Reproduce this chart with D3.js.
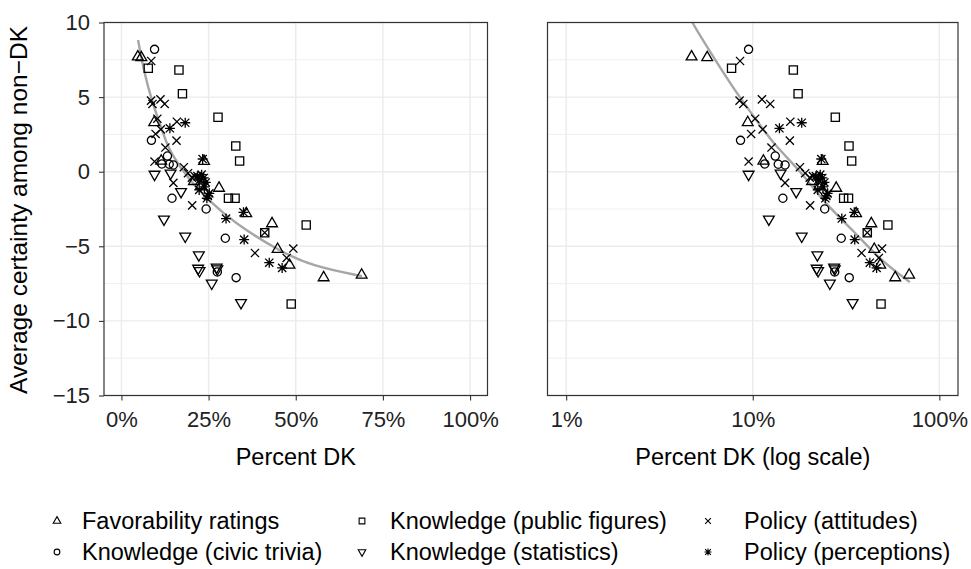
<!DOCTYPE html>
<html>
<head>
<meta charset="utf-8">
<script src="https://cdn.jsdelivr.net/npm/d3@7"></script>
<style>
  body { margin: 0; background: #ffffff; }
  svg { display: block; }
  text { font-family: "Liberation Sans", Arial, Helvetica, sans-serif; }
</style>
</head>
<body>
<svg id="chart" width="971" height="569"></svg>
<script>
// Each item: [percent answering "don't know", average certainty among non-DK]
const favorability = [
  [4.7, 7.7], [5.7, 7.65], [9.4, 3.3], [11.4, 0.72], [23.7, 0.7], [20.8, -0.65],
  [22.8, -0.95], [28.0, -1.1], [35.8, -2.8], [43.2, -3.48], [44.8, -5.2],
  [48.2, -6.25], [58.0, -7.1], [68.9, -6.92]
];
const civicTrivia = [
  [9.5, 8.2], [8.6, 2.1], [13.2, 1.05], [11.6, 0.52], [13.7, 0.5], [14.9, 0.45],
  [14.5, -1.78], [24.3, -2.5], [29.8, -4.46], [27.5, -6.72], [32.9, -7.1]
];
const publicFigures = [
  [7.7, 6.93], [16.5, 6.82], [17.5, 5.22], [27.7, 3.65], [32.8, 1.72], [33.9, 0.72],
  [30.7, -1.78], [32.6, -1.78], [41.1, -4.09], [53.0, -3.57], [48.7, -8.87]
];
const statistics = [
  [9.5, -0.18], [14.1, -0.1], [17.1, -1.34], [12.2, -3.18], [18.3, -4.33],
  [22.2, -5.58], [22.0, -6.48], [22.4, -6.64], [27.3, -6.4], [27.5, -6.52],
  [25.9, -7.48], [34.3, -8.78]
];
const attitudes = [
  [8.55, 7.42], [8.5, 4.76], [8.9, 4.54], [11.2, 4.85], [12.4, 4.54], [10.3, 3.55],
  [11.3, 2.84], [15.9, 3.35], [9.8, 2.53], [15.8, 2.08], [12.6, 1.62], [9.5, 0.68],
  [17.9, 0.3], [14.9, -0.75], [20.3, -2.26], [19.1, -0.1], [20.2, -0.4], [21.0, -0.3],
  [41.1, -4.09], [38.3, -5.45], [49.3, -5.15], [47.4, -5.78]
];
const perceptions = [
  [13.9, 2.91], [18.3, 3.28], [23.3, 0.85], [21.8, -0.3], [22.5, -0.55], [23.0, -0.2],
  [23.6, -0.42], [24.2, -0.72], [22.3, -1.22], [23.8, -1.02], [25.2, -1.45],
  [24.5, -1.78], [24.8, -1.62], [30.0, -3.14], [35.0, -2.72], [35.2, -4.55],
  [42.4, -6.1], [46.1, -6.45]
];

// Smoothed trend (loess) through all items, on the linear and on the log axis
const trendLinearX = [4.77, 6.2, 8.6, 11.5, 12.9, 14.4, 18.7, 25.4, 32, 45, 55, 69];
const trendLinearY = [8.83, 7.0, 4.8, 2.9, 1.95, 1.2, -0.35, -2.0, -3.35, -5.3, -6.35, -7.0];
const trendLogX = [4.7, 5.0, 6.0, 7.9, 10.0, 13.2, 17.9, 24.4, 35.3, 48.0, 69.5];
const trendLogY = [10.1, 9.5, 7.9, 5.55, 3.8, 1.7, 0.1, -2.15, -4.05, -5.9, -7.4];

const seriesNames = [
  "Favorability ratings", "Knowledge (civic trivia)", "Knowledge (public figures)",
  "Knowledge (statistics)", "Policy (attitudes)", "Policy (perceptions)"
];
const seriesShapes = ["triangle", "circle", "square", "triangleDown", "cross", "asterisk"];
const seriesData = [favorability, civicTrivia, publicFigures, statistics, attitudes, perceptions];

const xTicksLinear = [0, 25, 50, 75, 100];
const xTicksLog = [1, 10, 100];
const yTicks = [10, 5, 0, -5, -10, -15];
const yMinorTicks = [7.5, 2.5, -2.5, -7.5, -12.5];

const yTitle = "Average certainty among non\u2212DK";
const xTitleLinear = "Percent DK";
const xTitleLog = "Percent DK (log scale)";

// ---- layout ----
const svg = d3.select("#chart");
const panelTop = 22.5, panelBottom = 395.5;
const tickFont = 22, titleFont = 23.5, yTitleFont = 24.5;
const panels = [
  { left: 104, right: 487.5, log: false, ticks: xTicksLinear, title: xTitleLinear, yLabels: true,
    trend: d3.zip(trendLinearX, trendLinearY) },
  { left: 547.5, right: 958, log: true, ticks: xTicksLog, title: xTitleLog, yLabels: false,
    trend: d3.zip(trendLogX, trendLogY) }
];

const y = d3.scaleLinear().domain([-15, 10]).range([panelBottom, panelTop]);
const fmtNum = v => (v < 0 ? "\u2212" + Math.abs(v) : String(v));

// Point glyphs in the style of R's open plotting symbols
function glyph(type, k) {
  const p = d3.path();
  if (type === "triangle" || type === "triangleDown") {
    const s = 5.4 * k, dir = type === "triangle" ? 1 : -1;
    const h = s * Math.sqrt(3);
    p.moveTo(0, -dir * h * 2 / 3);
    p.lineTo(s, dir * h / 3);
    p.lineTo(-s, dir * h / 3);
    p.closePath();
    return p.toString();
  }
  if (type === "square") {
    const s = 4.1 * k;
    p.rect(-s, -s, 2 * s, 2 * s);
    return p.toString();
  }
  if (type === "circle") {
    const r = 4.1 * k;
    p.moveTo(r, 0);
    p.arc(0, 0, r, 0, 2 * Math.PI);
    return p.toString();
  }
  if (type === "cross") {
    const s = 4.1 * k;
    p.moveTo(-s, -s); p.lineTo(s, s);
    p.moveTo(-s, s); p.lineTo(s, -s);
    return p.toString();
  }
  // asterisk: plus and cross superimposed
  const s = 4.1 * k, r = 5.0 * k;
  p.moveTo(-s, -s); p.lineTo(s, s);
  p.moveTo(-s, s); p.lineTo(s, -s);
  p.moveTo(0, -r); p.lineTo(0, r);
  p.moveTo(-r, 0); p.lineTo(r, 0);
  return p.toString();
}

panels.forEach((pn, pi) => {
  const x = pn.log
    ? d3.scaleLog().domain([Math.pow(10, -0.1), Math.pow(10, 2.1)]).range([pn.left, pn.right])
    : d3.scaleLinear().domain([-5, 105]).range([pn.left, pn.right]);

  const g = svg.append("g");
  const clipId = "clip" + pi;
  g.append("clipPath").attr("id", clipId).append("rect")
    .attr("x", pn.left).attr("y", panelTop)
    .attr("width", pn.right - pn.left).attr("height", panelBottom - panelTop);

  // grid
  const grid = g.append("g");
  grid.selectAll("line.ymin").data(yMinorTicks).join("line")
    .attr("x1", pn.left).attr("x2", pn.right).attr("y1", d => y(d)).attr("y2", d => y(d))
    .attr("stroke", "#ebebeb").attr("stroke-width", 0.8);
  grid.selectAll("line.ymaj").data(yTicks).join("line")
    .attr("x1", pn.left).attr("x2", pn.right).attr("y1", d => y(d)).attr("y2", d => y(d))
    .attr("stroke", "#ebebeb").attr("stroke-width", 1.4);
  grid.selectAll("line.xmaj").data(pn.ticks).join("line")
    .attr("x1", d => x(d)).attr("x2", d => x(d)).attr("y1", panelTop).attr("y2", panelBottom)
    .attr("stroke", "#ebebeb").attr("stroke-width", 1.4);

  // trend line
  g.append("path")
    .attr("clip-path", `url(#${clipId})`)
    .attr("d", d3.line().curve(d3.curveBasis).x(d => x(d[0])).y(d => y(d[1]))(pn.trend))
    .attr("fill", "none").attr("stroke", "#a6a6a6").attr("stroke-width", 2.4);

  // points
  seriesData.forEach((data, si) => {
    g.append("g").selectAll("path").data(data).join("path")
      .attr("transform", d => `translate(${x(d[0])},${y(d[1])})`)
      .attr("d", glyph(seriesShapes[si], 1))
      .attr("fill", "none").attr("stroke", "#000").attr("stroke-width", 1.3);
  });

  // panel border
  g.append("rect").attr("x", pn.left).attr("y", panelTop)
    .attr("width", pn.right - pn.left).attr("height", panelBottom - panelTop)
    .attr("fill", "none").attr("stroke", "#333333").attr("stroke-width", 1.2);

  // x axis
  const xa = g.append("g").attr("transform", `translate(0,${panelBottom})`)
    .call(d3.axisBottom(x).tickValues(pn.ticks).tickSize(5).tickPadding(11).tickFormat(d => d + "%"));
  xa.select(".domain").remove();
  xa.selectAll(".tick line").attr("stroke", "#333333").attr("stroke-width", 1.1);
  xa.selectAll(".tick text").attr("fill", "#222").attr("font-size", tickFont)
    .attr("font-family", "Liberation Sans, Arial, sans-serif");

  g.append("text").attr("x", (pn.left + pn.right) / 2).attr("y", 465)
    .attr("text-anchor", "middle").attr("font-size", titleFont).attr("fill", "#000").text(pn.title);

  if (pn.yLabels) {
    const ya = g.append("g").attr("transform", `translate(${pn.left},0)`)
      .call(d3.axisLeft(y).tickValues(yTicks).tickSize(5).tickPadding(9).tickFormat(fmtNum));
    ya.select(".domain").remove();
    ya.selectAll(".tick line").attr("stroke", "#333333").attr("stroke-width", 1.1);
    ya.selectAll(".tick text").attr("fill", "#222").attr("font-size", tickFont)
      .attr("font-family", "Liberation Sans, Arial, sans-serif");
    g.append("text")
      .attr("transform", `translate(27,${(panelTop + panelBottom) / 2 + 1}) rotate(-90)`)
      .attr("text-anchor", "middle").attr("font-size", yTitleFont).attr("fill", "#000").text(yTitle);
  }
});

// legend: three columns, two rows
const legendKeyX = [57, 362, 708];
const legendTextX = [82, 390, 744];
const legendRows = [521, 552];
const legend = svg.append("g");
seriesNames.forEach((name, i) => {
  const col = Math.floor(i / 2), row = i % 2;
  const gy = legendRows[row];
  legend.append("path").attr("transform", `translate(${legendKeyX[col]},${gy})`)
    .attr("d", glyph(seriesShapes[i], 0.7))
    .attr("fill", "none").attr("stroke", "#000").attr("stroke-width", 1.1);
  legend.append("text").attr("x", legendTextX[col]).attr("y", gy).attr("dy", "0.35em")
    .attr("font-size", titleFont).attr("fill", "#000").text(name);
});
</script>
</body>
</html>
